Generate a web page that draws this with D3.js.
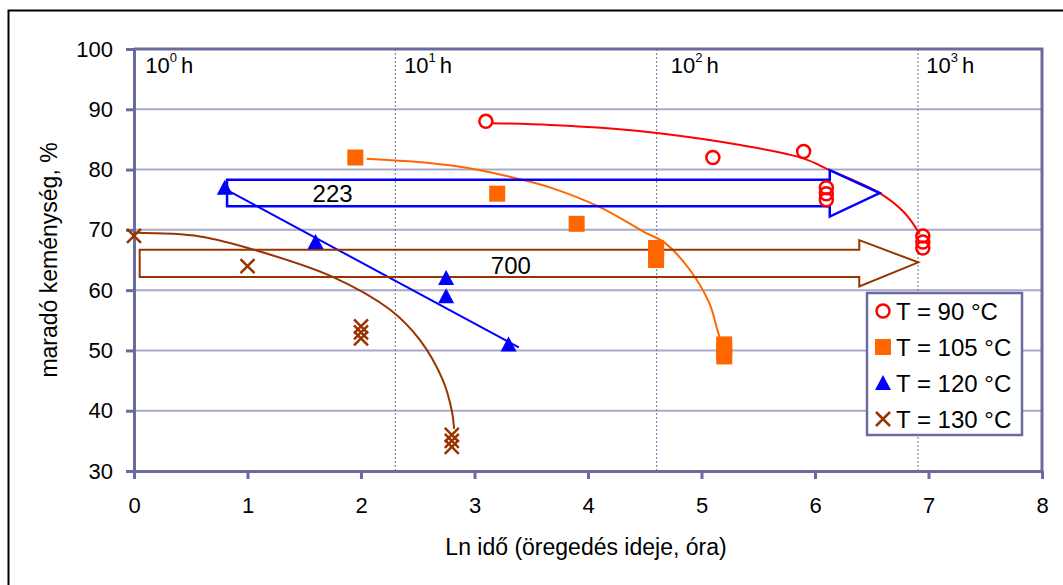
<!DOCTYPE html>
<html>
<head>
<meta charset="utf-8">
<script src="https://cdn.jsdelivr.net/npm/d3@7"></script>
<style>
	body { margin: 0; background: #fff; }
	text { font-family: "Liberation Sans", Arial, sans-serif; fill: #000; }
</style>
</head>
<body>
<div id="chart"></div>
<script>
// measured points, x = ln(time in hours), y = residual hardness %
var t90x  = [3.1, 5.1, 5.9, 6.1, 6.1, 6.1, 6.95, 6.95, 6.95];
var t90y  = [88, 82, 83, 77, 76, 75, 69, 68, 67];
var t105x = [1.95, 3.2, 3.9, 4.6, 4.6, 4.6, 5.2, 5.2, 5.2];
var t105y = [82, 76, 71, 67, 66, 65, 51, 50, 49];
var t120x = [0.8, 1.6, 2.75, 2.75, 3.3];
var t120y = [77, 68, 62, 59, 51];
var t130x = [0, 1, 2, 2, 2, 2.8, 2.8, 2.8];
var t130y = [69, 64, 54, 53, 52, 36, 35, 34];

// trend lines
var trend90  = [[3.15,87.7],[3.67,87.4],[4.2,86.8],[4.68,85.9],[5.3,84.2],[5.89,81.9],[6.13,79.9],[6.57,76.1],[6.78,73.0],[6.9,70.0],[6.92,69.3]];
var trend105 = [[2.05,81.8],[2.3,81.5],[2.6,81.1],[2.93,80.3],[3.4,78.4],[3.67,77.0],[4.1,73.8],[4.5,69.6],[4.68,67.8],[4.9,63.3],[5.07,57.8],[5.14,53.4],[5.17,51.5]];
var trend120 = [[0.82,76.6],[3.39,50.5]];
var trend130 = [[0,69.5],[0.58,68.9],[1.11,66.4],[1.75,62.2],[2.26,56.7],[2.52,51.7],[2.72,45.1],[2.8,40],[2.82,37]];

// arrows (outline, data units) and their labels
var arrow223 = [[0.82,78.3],[6.13,78.3],[6.13,79.9],[6.57,76.1],[6.13,72.2],[6.13,73.9],[0.82,73.9]];
var arrow700 = [[0.05,66.7],[6.39,66.7],[6.39,68.3],[6.91,64.6],[6.39,60.6],[6.39,62.2],[0.05,62.2]];
var arrowLabels = ["223", "700"];
var arrowLabelX = [1.75, 3.32];
var arrowLabelY = [76, 64];

var xTicks = [0, 1, 2, 3, 4, 5, 6, 7, 8];
var yTicks = [30, 40, 50, 60, 70, 80, 90, 100];
var decadeExp = [0, 1, 2, 3];
var decadeLabelX = [0.1, 2.38, 4.73, 6.98];
var legendNames = ["T = 90 °C", "T = 105 °C", "T = 120 °C", "T = 130 °C"];

var AXIS = "#6b6b9f", GRID = "#a9a9c9";
var RED = "#ff0000", ORANGE = "#ff6600", BLUE = "#0000ff", BROWN = "#993300";

var W = 1063, H = 585;
var svg = d3.select("#chart").append("svg")
			.attr("width", W)
			.attr("height", H);

// outer chart frame, runs past the right and bottom edge
svg.append("rect")
	.attr("x", 8.5).attr("y", 10.5)
	.attr("width", 1100).attr("height", 600)
	.attr("fill", "none").attr("stroke", "#000").attr("stroke-width", 2);

var x = d3.scaleLinear().domain([0, 8]).range([134, 1042]);
var y = d3.scaleLinear().domain([30, 100]).range([471, 49]);

// horizontal gridlines
svg.append("g").selectAll("line")
	.data(yTicks.filter(function(d) { return d > 30 && d < 100; }))
	.enter().append("line")
	.attr("x1", x(0)).attr("x2", x(8))
	.attr("y1", function(d) { return y(d); })
	.attr("y2", function(d) { return y(d); })
	.attr("stroke", GRID).attr("stroke-width", 2);

// decade markers (ln 10^k)
svg.append("g").selectAll("line")
	.data(decadeExp.slice(1))
	.enter().append("line")
	.attr("x1", function(d) { return x(d * Math.LN10); })
	.attr("x2", function(d) { return x(d * Math.LN10); })
	.attr("y1", y(100)).attr("y2", y(30))
	.attr("stroke", "#7070a8").attr("stroke-width", 1)
	.attr("stroke-dasharray", "2,2");

// plot frame top/right
svg.append("path")
	.attr("d", "M" + x(0) + "," + y(100) + "H" + x(8) + "V" + y(30))
	.attr("fill", "none").attr("stroke", AXIS).attr("stroke-width", 3);

var xAxis = svg.append("g")
	.attr("transform", "translate(0," + y(30) + ")")
	.call(d3.axisBottom(x).tickValues(xTicks).tickSize(8).tickPadding(18).tickSizeOuter(0));
var yAxis = svg.append("g")
	.attr("transform", "translate(" + x(0) + ",0)")
	.call(d3.axisLeft(y).tickValues(yTicks).tickSize(8).tickPadding(13).tickSizeOuter(0));
[xAxis, yAxis].forEach(function(a) {
	a.select(".domain").attr("stroke", AXIS).attr("stroke-width", 3);
	a.selectAll(".tick line").attr("stroke", AXIS).attr("stroke-width", 3);
	a.selectAll(".tick text").style("font-size", "22px").attr("fill", "#000");
});

svg.append("text")
	.attr("x", (x(0) + x(8)) / 2 - 2).attr("y", 555)
	.attr("text-anchor", "middle")
	.style("font-size", "23px")
	.text("Ln idő (öregedés ideje, óra)");
svg.append("text")
	.attr("transform", "translate(57," + (y(30) + y(100)) / 2 + ") rotate(-90)")
	.attr("text-anchor", "middle")
	.style("font-size", "23px")
	.text("maradó keménység, %");

// 10^k h labels
var dec = svg.append("g").selectAll("text")
	.data(decadeExp)
	.enter().append("text")
	.attr("x", function(d, i) { return x(decadeLabelX[i]); })
	.attr("y", 73)
	.style("font-size", "22px");
dec.append("tspan").text("10");
dec.append("tspan").attr("dy", -11).style("font-size", "13px").text(function(d) { return d; });
dec.append("tspan").attr("dy", 11).attr("dx", 4).text("h");

// trend lines
var line = d3.line()
	.x(function(d) { return x(d[0]); })
	.y(function(d) { return y(d[1]); })
	.curve(d3.curveCatmullRom);
[[trend90, RED], [trend105, ORANGE], [trend120, BLUE], [trend130, BROWN]].forEach(function(t) {
	svg.append("path")
		.attr("d", line(t[0]))
		.attr("fill", "none").attr("stroke", t[1]).attr("stroke-width", 2);
});

// arrows
var outline = d3.line()
	.x(function(d) { return x(d[0]); })
	.y(function(d) { return y(d[1]); });
svg.append("path").attr("d", outline(arrow223) + "Z")
	.attr("fill", "none").attr("stroke", BLUE).attr("stroke-width", 2.5);
svg.append("path").attr("d", outline(arrow700) + "Z")
	.attr("fill", "none").attr("stroke", BROWN).attr("stroke-width", 2);
svg.append("g").selectAll("text")
	.data(arrowLabels)
	.enter().append("text")
	.attr("x", function(d, i) { return x(arrowLabelX[i]); })
	.attr("y", function(d, i) { return y(arrowLabelY[i]) + 8; })
	.attr("text-anchor", "middle")
	.style("font-size", "24px")
	.text(function(d) { return d; });

// markers
function drawMarker(g, kind) {
	if (kind === 0) {
		g.append("circle").attr("r", 6.5)
			.attr("fill", "none").attr("stroke", RED).attr("stroke-width", 2.5);
	} else if (kind === 1) {
		g.append("rect").attr("x", -8).attr("y", -8).attr("width", 16).attr("height", 16)
			.attr("fill", ORANGE);
	} else if (kind === 2) {
		g.append("path").attr("d", "M0,-8L8,7L-8,7Z").attr("fill", BLUE);
	} else {
		g.append("path").attr("d", "M-7,-7L7,7M-7,7L7,-7")
			.attr("stroke", BROWN).attr("stroke-width", 2.5);
	}
}
[[t90x, t90y], [t105x, t105y], [t120x, t120y], [t130x, t130y]].forEach(function(s, k) {
	svg.append("g").selectAll("g")
		.data(s[0])
		.enter().append("g")
		.attr("transform", function(d, i) { return "translate(" + x(d) + "," + y(s[1][i]) + ")"; })
		.each(function() { drawMarker(d3.select(this), k); });
});

// legend
var leg = svg.append("g").attr("transform", "translate(867,293)");
leg.append("rect")
	.attr("width", 155).attr("height", 142)
	.attr("fill", "#fff").attr("stroke", AXIS).attr("stroke-width", 2.5);
var item = leg.selectAll(".item")
	.data(legendNames)
	.enter().append("g")
	.attr("class", "item")
	.attr("transform", function(d, i) { return "translate(16," + (18 + i * 36) + ")"; });
item.each(function(d, i) { drawMarker(d3.select(this), i); });
item.append("text")
	.attr("x", 13).attr("y", 8.5)
	.style("font-size", "24px")
	.text(function(d) { return d; });
</script>
</body>
</html>
